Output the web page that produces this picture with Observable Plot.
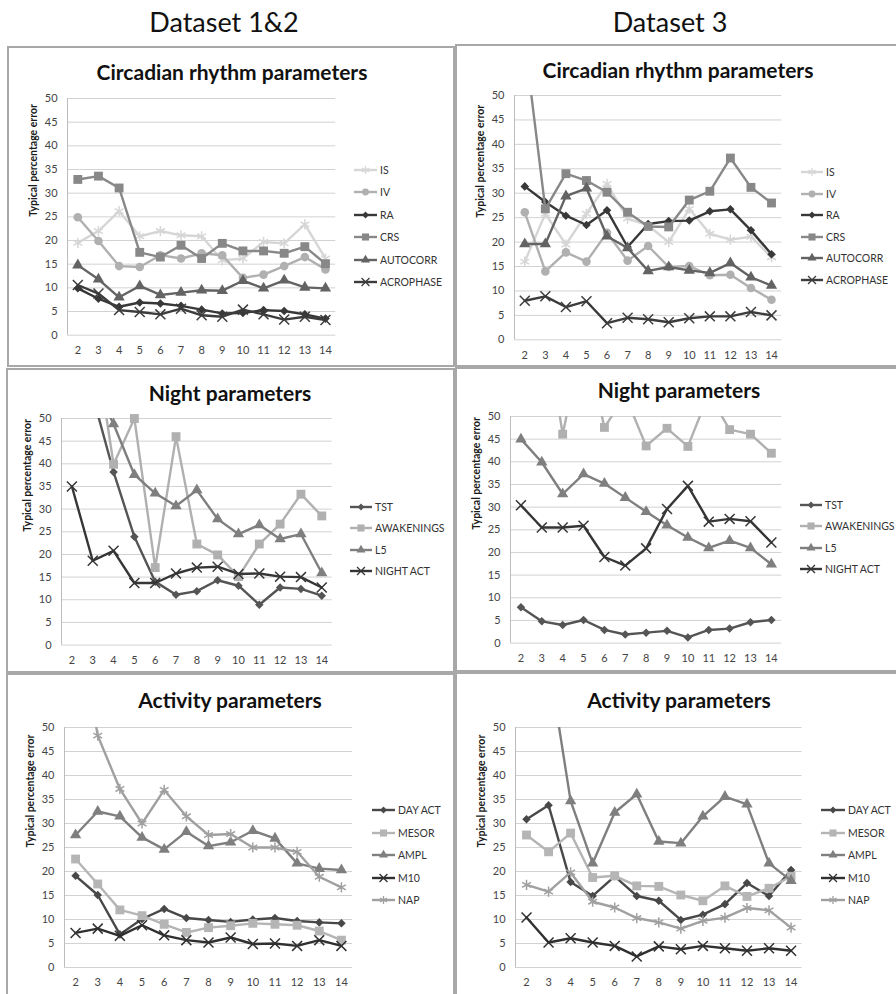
<!DOCTYPE html>
<html><head><meta charset="utf-8">
<script src="https://cdn.jsdelivr.net/npm/d3@7"></script>
<script src="https://cdn.jsdelivr.net/npm/@observablehq/plot@0.6"></script>
<style>
body{margin:0;background:#fff;font-family:Lato,"Open Sans",sans-serif;}
#page{position:relative;width:896px;height:994px;overflow:hidden;background:#fff;}
.hdr{position:absolute;font-size:27px;color:#111;transform:translate(-50%,-50%);white-space:nowrap;line-height:1;}
.panel{position:absolute;border:2px solid #a8a8a8;box-sizing:border-box;}
.title{position:absolute;font-weight:bold;font-size:21px;color:#111;transform:translate(-50%,-50%);white-space:nowrap;line-height:1;}
.lgtext{position:absolute;font-size:10.5px;color:#333;transform:translateY(-50%);white-space:nowrap;line-height:1;}
.lgsym{position:absolute;overflow:visible;}
.plot{position:absolute;}
</style></head><body><div id="page"></div>
<script>
// ---------- categories / ticks ----------
const xCats = [2,3,4,5,6,7,8,9,10,11,12,13,14];
const yTicks = [0,5,10,15,20,25,30,35,40,45,50];
const colHeaders = ["Dataset 1&2","Dataset 3"];
const panelTitles = ["Circadian rhythm parameters","Night parameters","Activity parameters"];
const yLabel = "Typical percentage error";

// ---------- Circadian rhythm parameters ----------
const circNames = ["IS","IV","RA","CRS","AUTOCORR","ACROPHASE"];
const circ12_IS        = [19.5,22,26.2,20.9,22,21.1,20.9,15.8,16.2,19.7,19.4,23.4,16.2];
const circ12_IV        = [24.9,19.9,14.6,14.4,16.9,16.2,17.3,16.9,12.1,12.8,14.6,16.5,13.9];
const circ12_RA        = [9.9,7.7,6.0,6.9,6.7,6.2,5.4,4.6,4.7,5.3,5.1,4.4,3.5];
const circ12_CRS       = [32.9,33.6,31.1,17.5,16.5,19.0,16.2,19.4,17.8,17.8,17.3,18.7,15.1];
const circ12_AUTOCORR  = [14.8,11.8,8.0,10.4,8.5,9.0,9.5,9.4,11.5,9.9,11.6,10.1,9.9];
const circ12_ACROPHASE = [10.6,8.8,5.3,4.9,4.4,5.6,4.2,3.9,5.4,4.4,3.3,3.9,3.2];

const circ3_IS        = [16.0,25.8,19.5,25.8,31.9,24.8,23.4,20.0,26.8,21.7,20.5,21.1,16.9];
const circ3_IV        = [26.1,14.0,17.9,16.0,21.9,16.2,19.2,14.9,15.1,13.2,13.3,10.6,8.2];
const circ3_RA        = [31.4,28.2,25.4,23.5,26.5,19.0,23.7,24.3,24.4,26.3,26.7,22.4,17.5];
const circ3_CRS       = [61,26.8,34.0,32.6,30.2,26.1,23.2,23.1,28.6,30.4,37.2,31.2,28.0];
const circ3_AUTOCORR  = [19.6,19.6,29.4,31.0,21.2,18.8,14.1,14.9,14.2,13.7,15.7,12.8,11.1];
const circ3_ACROPHASE = [8.0,8.9,6.7,7.9,3.4,4.5,4.2,3.6,4.4,4.8,4.8,5.7,5.0];

// ---------- Night parameters ----------
const nightNames = ["TST","AWAKENINGS","L5","NIGHT ACT"];
const night12_TST        = [62,55,38.2,23.9,14.0,11.1,11.9,14.3,13.1,8.9,12.7,12.4,10.9];
const night12_AWAKENINGS = [80,70,39.9,50,17.1,46.0,22.3,19.9,15.1,22.3,26.7,33.3,28.5];
const night12_L5         = [65,58,48.8,37.6,33.5,30.7,34.2,27.8,24.5,26.5,23.4,24.5,15.9];
const night12_NIGHTACT   = [35.0,18.6,20.8,13.7,13.7,15.8,17.1,17.3,15.7,15.8,15.1,15.0,12.7];

const night3_TST        = [7.9,4.8,4.0,5.1,2.9,1.9,2.3,2.7,1.25,2.9,3.2,4.6,5.1];
const night3_AWAKENINGS = [70,75,46.1,68,47.6,54.6,43.5,47.4,43.4,55,47.1,46.1,41.9];
const night3_L5         = [45.0,39.9,32.9,37.3,35.2,32.1,29.0,26.0,23.3,21.0,22.6,21.0,17.4];
const night3_NIGHTACT   = [30.4,25.5,25.5,25.9,19.0,17.1,20.9,29.6,34.7,26.8,27.4,26.9,22.2];

// ---------- Activity parameters ----------
const actNames = ["DAY ACT","MESOR","AMPL","M10","NAP"];
const act12_DAYACT = [19.1,15.1,6.9,10.1,12.2,10.3,9.9,9.5,10.0,10.3,9.7,9.4,9.2];
const act12_MESOR  = [22.6,17.4,12.0,10.8,9.0,7.3,8.3,8.7,9.2,9.0,8.8,7.6,5.7];
const act12_AMPL   = [27.6,32.5,31.5,27.1,24.6,28.3,25.3,26.1,28.5,26.9,21.7,20.6,20.3];
const act12_M10    = [7.2,8.1,6.6,8.8,6.7,5.7,5.2,6.25,4.9,5.0,4.5,5.7,4.5];
const act12_NAP    = [75,48.3,37.2,30.0,37.0,31.5,27.6,27.8,25.0,25.0,24.1,18.9,16.7];

const act3_DAYACT = [30.9,33.8,17.8,14.9,19.0,14.9,13.9,9.9,11.0,13.2,17.6,14.9,20.3];
const act3_MESOR  = [27.6,24.1,28.0,18.75,19.1,17.0,16.9,15.1,13.9,17.0,14.8,16.5,19.0];
const act3_AMPL   = [70,64,34.7,21.7,32.3,36.1,26.25,25.9,31.5,35.6,34.0,21.7,18.1];
const act3_M10    = [10.4,5.2,6.1,5.2,4.5,2.3,4.4,3.8,4.5,4.0,3.5,4.0,3.5];
const act3_NAP    = [17.2,15.8,19.8,13.7,12.5,10.3,9.4,8.1,9.7,10.4,12.4,11.9,8.3];

// ---------- styles ----------
const circStyle = [
  {color:"#d6d6d6", sym:"asterisk"},
  {color:"#b0b0b0", sym:"circle"},
  {color:"#383838", sym:"diamond"},
  {color:"#888888", sym:"square"},
  {color:"#636363", sym:"triangle"},
  {color:"#3c3c3c", sym:"times"}
];
const nightStyle = [
  {color:"#555555", sym:"diamond"},
  {color:"#b0b0b0", sym:"square"},
  {color:"#7f7f7f", sym:"triangle"},
  {color:"#363636", sym:"times"}
];
const actStyle = [
  {color:"#484848", sym:"diamond"},
  {color:"#b5b5b5", sym:"square"},
  {color:"#7f7f7f", sym:"triangle"},
  {color:"#303030", sym:"times"},
  {color:"#a0a0a0", sym:"asterisk"}
];
const symR = {diamond:3.4, square:5.0, circle:4.3, triangle:4.2, times:4.6, asterisk:4.8};

function makeSeries(names, arrays, styles) {
  return names.map((n,i)=>({name:n, values:arrays[i], ...styles[i]}));
}

const panels = [
  {title:panelTitles[0], box:[7,46,448,321], frame:[66.7,98.3,335,335], titleAt:[232,71],
   legend:{x1:354,x2:377,tx:380,y0:170,dy:22.4},
   series:makeSeries(circNames,[circ12_IS,circ12_IV,circ12_RA,circ12_CRS,circ12_AUTOCORR,circ12_ACROPHASE],circStyle)},
  {title:panelTitles[0], box:[455,44,445,323], frame:[513.7,95,781,339.3], titleAt:[678,69],
   legend:{x1:801,x2:823,tx:826,y0:172,dy:21.5},
   series:makeSeries(circNames,[circ3_IS,circ3_IV,circ3_RA,circ3_CRS,circ3_AUTOCORR,circ3_ACROPHASE],circStyle)},
  {title:panelTitles[1], box:[6,368,449,305], frame:[61,417.7,331.7,644.3], titleAt:[230,392],
   legend:{x1:350,x2:372,tx:375,y0:506.7,dy:21.4},
   series:makeSeries(nightNames,[night12_TST,night12_AWAKENINGS,night12_L5,night12_NIGHTACT],nightStyle)},
  {title:panelTitles[1], box:[455,367,445,305], frame:[509.7,415.7,781,642.3], titleAt:[679,389],
   legend:{x1:800,x2:822,tx:825,y0:505,dy:21.3},
   series:makeSeries(nightNames,[night3_TST,night3_AWAKENINGS,night3_L5,night3_NIGHTACT],nightStyle)},
  {title:panelTitles[2], box:[6,673,449,330], frame:[64.3,726.7,352.3,966.7], titleAt:[230,699],
   legend:{x1:372,x2:395,tx:398,y0:810,dy:22.5},
   series:makeSeries(actNames,[act12_DAYACT,act12_MESOR,act12_AMPL,act12_M10,act12_NAP],actStyle)},
  {title:panelTitles[2], box:[455,672,445,330], frame:[514.7,726.7,801.3,966.7], titleAt:[679,699],
   legend:{x1:821,x2:845,tx:848,y0:810,dy:22.5},
   series:makeSeries(actNames,[act3_DAYACT,act3_MESOR,act3_AMPL,act3_M10,act3_NAP],actStyle)}
];

const page = document.getElementById("page");
function add(tag, cls, css, text) {
  const el = document.createElement(tag);
  if (cls) el.className = cls;
  Object.assign(el.style, css);
  if (text != null) el.textContent = text;
  page.appendChild(el);
  return el;
}

// column headers
add("div","hdr",{left:"224px",top:"21px"},colHeaders[0]);
add("div","hdr",{left:"670px",top:"21px"},colHeaders[1]);

const strokeSyms = new Set(["times","asterisk"]);
function dotOpts(s, r) {
  const o = {x:"x", y:"y", r};
  if (s.sym === "diamond") { o.symbol = "square"; o.rotate = 45; }
  else o.symbol = s.sym;
  if (strokeSyms.has(s.sym)) { o.stroke = s.color; o.fill = "none"; o.strokeWidth = 1.5; }
  else { o.fill = s.color; o.stroke = "none"; }
  return o;
}

for (const p of panels) {
  add("div","panel",{left:p.box[0]+"px",top:p.box[1]+"px",width:p.box[2]+"px",height:p.box[3]+"px"});
  add("div","title",{left:p.titleAt[0]+"px",top:p.titleAt[1]+"px"},p.title);

  const [fl,ft,fr,fb] = p.frame;
  const mL=50,mR=12,mT=12,mB=26;
  const marks = [
    Plot.gridY(yTicks,{stroke:"#d2d2d2",strokeOpacity:1,strokeWidth:1}),
    Plot.ruleX([1.5],{stroke:"#bdbdbd",strokeWidth:1}),
    Plot.axisY(yTicks,{label:null,tickSize:0,tickPadding:10,fontSize:11,fill:"#444"}),
    Plot.axisX(xCats,{label:null,tickSize:0,tickPadding:11,fontSize:11,fill:"#444"}),
    Plot.text([yLabel],{frameAnchor:"left",rotate:-90,dx:-34,fontWeight:"bold",fontSize:10.5,fill:"#1a1a1a"})
  ];
  for (const s of p.series) {
    const rows = xCats.map((x,i)=>({x,y:s.values[i]}));
    marks.push(Plot.line(rows,{x:"x",y:"y",stroke:s.color,strokeWidth:2.4,clip:true}));
    marks.push(Plot.dot(rows.filter(d=>d.y<=50.5),dotOpts(s,symR[s.sym])));
  }
  const svg = Plot.plot({
    width: fr-fl+mL+mR, height: fb-ft+mT+mB,
    marginLeft:mL, marginRight:mR, marginTop:mT, marginBottom:mB,
    x:{type:"linear",domain:[1.5,14.5],label:null},
    y:{domain:[0,50],label:null},
    style:{fontFamily:"Lato, 'Open Sans', sans-serif",background:"transparent",color:"#444",overflow:"visible"},
    marks
  });
  svg.classList.add("plot");
  svg.style.left = (fl-mL)+"px";
  svg.style.top = (ft-mT)+"px";
  page.appendChild(svg);

  // legend
  const L = p.legend;
  p.series.forEach((s,i)=>{
    const y = L.y0 + i*L.dy;
    const w = L.x2 - L.x1;
    const ns = "http://www.w3.org/2000/svg";
    const sv = document.createElementNS(ns,"svg");
    sv.setAttribute("width",w); sv.setAttribute("height",14);
    sv.setAttribute("class","lgsym");
    sv.style.left = L.x1+"px"; sv.style.top = (y-7)+"px";
    const ln = document.createElementNS(ns,"line");
    ln.setAttribute("x1",0); ln.setAttribute("x2",w); ln.setAttribute("y1",7); ln.setAttribute("y2",7);
    ln.setAttribute("stroke",s.color); ln.setAttribute("stroke-width",2.4);
    sv.appendChild(ln);
    const r = symR[s.sym]*0.8;
    const typeMap = {diamond:d3.symbolSquare,square:d3.symbolSquare,circle:d3.symbolCircle,triangle:d3.symbolTriangle,times:d3.symbolTimes,asterisk:d3.symbolAsterisk};
    const path = document.createElementNS(ns,"path");
    path.setAttribute("d", d3.symbol(typeMap[s.sym], Math.PI*r*r)());
    path.setAttribute("transform",`translate(${w/2},7)`+(s.sym==="diamond"?" rotate(45)":""));
    if (strokeSyms.has(s.sym)) { path.setAttribute("fill","none"); path.setAttribute("stroke",s.color); path.setAttribute("stroke-width",1.3); }
    else path.setAttribute("fill",s.color);
    sv.appendChild(path);
    page.appendChild(sv);
    add("div","lgtext",{left:L.tx+"px",top:y+"px"},s.name);
  });
}
</script></body></html>
